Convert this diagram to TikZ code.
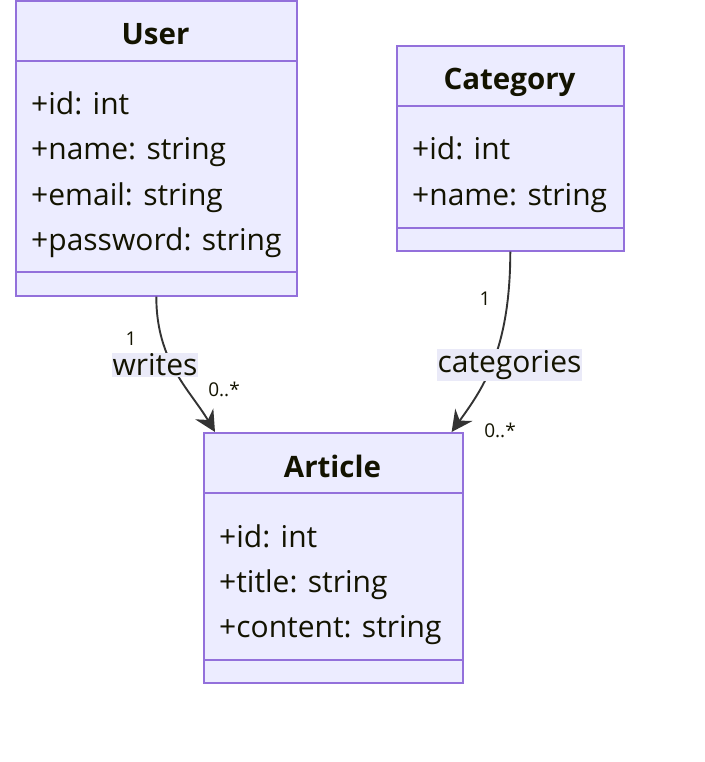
\documentclass[tikz,border=0pt]{standalone}
\usepackage{fontspec}
\setmainfont{Open Sans}
\usetikzlibrary{arrows.meta,calc}
\definecolor{clsfill}{HTML}{ECECFF}
\definecolor{clsline}{HTML}{9370DB}
\definecolor{edgecol}{HTML}{333333}
\definecolor{lblfill}{HTML}{EAEAF8}
\definecolor{txt}{HTML}{131300}
\tikzset{
  cls/.style={draw=clsline, fill=clsfill, line width=1.6pt, rectangle, inner sep=0pt, anchor=north west},
  sep/.style={draw=clsline, line width=1.6pt},
  ttl/.style={inner sep=0pt, anchor=base, font=\fontsize{29.5}{34}\selectfont\bfseries, text=txt},
  attr/.style={inner sep=0pt, anchor=base west, font=\fontsize{30}{34}\selectfont, text=txt},
  conn/.style={draw=edgecol, line width=1.9pt, -{Stealth[length=21pt,width=21pt,inset=7pt]}},
  elbl/.style={fill=lblfill, inner xsep=1pt, inner ysep=1pt, font=\fontsize{30}{34}\selectfont, text=txt},
  mult/.style={inner sep=0pt, font=\fontsize{19}{22}\selectfont, text=txt},
}
\begin{document}
\begin{tikzpicture}[x=1pt,y=-1pt]
\useasboundingbox (0,0) rectangle (704,762);
% User
\node[cls, minimum width=281pt, minimum height=295pt] (user) at (15,0) {};
\draw[sep] (15,61) -- (296,61);
\draw[sep] (15,272) -- (296,272);
\node[ttl] (usert) at (155.5,45) {User};
\node[attr] (u1) at (31,115) {+id: int};
\node[attr] (u2) at (31,160) {+name: string};
\node[attr] (u3) at (31,205) {+email: string};
\node[attr] (u4) at (31,250) {+password: string};
% Category
\node[cls, minimum width=227pt, minimum height=205pt] (cat) at (396,45) {};
\draw[sep] (396,106) -- (623,106);
\draw[sep] (396,228) -- (623,228);
\node[ttl] (catt) at (509.5,90) {Category};
\node[attr] (c1) at (412,160) {+id: int};
\node[attr] (c2) at (412,205) {+name: string};
% Article
\node[cls, minimum width=259pt, minimum height=250pt] (art) at (203,432) {};
\draw[sep] (203,493) -- (462,493);
\draw[sep] (203,660) -- (462,660);
\node[ttl] (artt) at (332.5,477) {Article};
\node[attr] (a1) at (219,547) {+id: int};
\node[attr] (a2) at (219,592) {+title: string};
\node[attr] (a3) at (219,637) {+content: string};
% connectors
\draw[conn] (user.south) .. controls +(0,65) and +(-25,-42) .. ($(art.north west)+(12,0)$);
\draw[conn] (cat.south) .. controls +(0,100) and +(30,-42) .. ($(art.north east)+(-12,0)$);
% labels
\node[elbl] (lw) at (155,365) {writes};
\node[elbl] (lc) at (509.5,365) {categories};
\node[mult] (m1) at (131,339) {1};
\node[mult] (m2) at (224,389) {0..*};
\node[mult] (m3) at (485,299) {1};
\node[mult] (m4) at (500,430) {0..*};
\end{tikzpicture}
\end{document}
